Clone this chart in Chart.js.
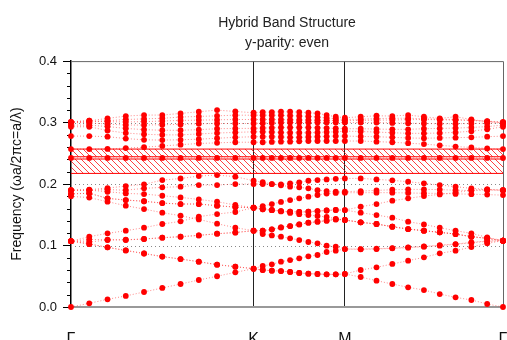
<!DOCTYPE html>
<html>
<head>
<meta charset="utf-8">
<script src="https://cdn.jsdelivr.net/npm/chart.js@4.4.0/dist/chart.umd.min.js"></script>
<style>
html,body{margin:0;padding:0;background:#fff;}
canvas{display:block;}
</style>
</head>
<body>
<canvas id="bands" width="507" height="340"></canvas>
<script>
// k-path: Gamma-K (10 steps), K-M (10 steps), M-Gamma (10 steps), in units of |GK|
var kPos=[0,0.1,0.2,0.3,0.4,0.5,0.6,0.7,0.8,0.9,1.0,
  1.05,1.1,1.15,1.2,1.25,1.3,1.35,1.4,1.45,1.5,
  1.5866,1.6732,1.7598,1.8464,1.933,2.0196,2.1062,2.1928,2.2794,2.366];
var kTicks=[0,1,1.5,2.366];
var kLabels=['Γ','K','M','Γ'];

// bands below the gap
var bandA=[0,.006,.0125,.018,.0244,.031,.0374,.0439,.050,.0564,.0623,
  .0602,.0591,.0585,.0569,.0553,.0542,.0537,.0531,.0531,.0537,
  .0488,.0428,.0374,.032,.0276,.0211,.0157,.0114,.0049,0];
var bandA2=[.107,.1025,.097,.092,.087,.082,.078,.0737,.0688,.0656,.0623,
  .0602,.0591,.0585,.0569,.0553,.0542,.0537,.0531,.0531,.0537,
  .0602,.0645,.07,.0753,.0808,.0873,.0916,.0975,.1035,.1079];
var bandB=[.107,.1025,.097,.092,.087,.082,.078,.0737,.0688,.0656,.0623,
  .0667,.0694,.0737,.0764,.0791,.0824,.0846,.0895,.0916,.0943,
  .0938,.0943,.0954,.0965,.0981,.1008,.1024,.1051,.1075,.1079];
var bandC=[.107,.1057,.109,.109,.1106,.1127,.1144,.1165,.1192,.1209,.1241,
  .1187,.1165,.1144,.1117,.1089,.1057,.1035,.0997,.0981,.0943,
  .0943,.0948,.0959,.097,.0986,.0997,.1019,.1046,.1068,.1079];
var bandD=[.107,.110,.1095,.1095,.1106,.1127,.1144,.1165,.1192,.1215,.1241,
  .1241,.1263,.1295,.1317,.1344,.1371,.1388,.1404,.1425,.1415,
  .1377,.135,.1306,.1268,.1241,.1214,.1187,.1144,.1117,.1079];
var bandE=[.107,.1144,.1198,.1241,.129,.135,.1393,.1469,.1512,.1545,.1615,
  .1604,.158,.1555,.153,.151,.1496,.148,.1465,.1435,.1415,
  .1377,.135,.1306,.1268,.1241,.1214,.1187,.1144,.1117,.1079];
var bandF=[.180,.178,.1713,.1648,.1593,.1534,.1485,.1425,.1355,.129,.1241,
  .1241,.1263,.1295,.1317,.1344,.1371,.1388,.1404,.1425,.1415,
  .1377,.135,.1306,.1268,.1241,.1214,.1187,.1144,.1117,.1079];
var bandG=[.184,.185,.1767,.174,.172,.169,.1675,.1675,.1648,.1625,.1615,
  .159,.1575,.156,.155,.1545,.155,.156,.157,.1578,.1577,
  .1534,.1496,.1453,.1388,.1344,.129,.1241,.1198,.1133,.1079];
var bandG2=[.184,.185,.1767,.174,.172,.169,.1675,.1675,.1648,.1625,.1615,
  .159,.1575,.156,.155,.1545,.155,.156,.157,.1578,.1577,
  .1631,.1675,.1729,.1767,.1805,.1832,.1859,.1902,.1913,.19];
var bandH=[.19,.19,.1875,.1848,.1837,.181,.1783,.175,.1713,.1659,.1615,
  .1642,.1675,.171,.174,.1767,.1795,.1822,.1845,.1855,.1859,
  .1859,.186,.186,.1855,.185,.1848,.184,.1835,.1828,.182];
var bandI=[.19,.19,.191,.19,.193,.1946,.1957,.1984,.1984,.20,.20,
  .20,.20,.1995,.2011,.2027,.2054,.2065,.2076,.2085,.2092,
  .2092,.2076,.206,.2038,.2011,.1984,.1957,.193,.1913,.19];
var bandJ=[.19,.191,.1935,.1967,.1995,.2065,.209,.213,.2146,.212,.2054,
  .203,.20,.198,.1957,.1946,.193,.19,.1886,.1875,.1875,
  .1886,.1897,.1908,.1913,.1913,.191,.19,.1895,.19,.19];

// defect band inside the gap
var bandDefect=[.2425,.2425,.2425,.2425,.2425,.2425,.2425,.2425,.2425,.2425,.2425,
  .2425,.2425,.2425,.2425,.2425,.2425,.2425,.2425,.2425,.2425,
  .2425,.2425,.2425,.2425,.2425,.2425,.2425,.2425,.2425,.2425];

// bands above the gap
var bandU0=[.2569,.2569,.2572,.2585,.260,.262,.264,.266,.267,.268,.268,
  .268,.2685,.269,.269,.2695,.27,.27,.27,.27,.27,
  .27,.269,.268,.2665,.265,.263,.261,.2595,.258,.2569];
var bandU1=[.278,.278,.277,.274,.272,.2715,.272,.273,.2745,.276,.277,
  .277,.277,.2765,.276,.276,.2765,.277,.2775,.278,.278,
  .2775,.277,.276,.275,.2745,.275,.2755,.276,.277,.278];
var bandU2=[.2932,.2932,.287,.283,.281,.28,.28,.2815,.283,.284,.285,
  .285,.2845,.284,.2835,.2835,.2835,.284,.2845,.285,.286,
  .2855,.2845,.2835,.2825,.2825,.283,.284,.286,.289,.2932];
var bandU3=[.2959,.2959,.2935,.2905,.2885,.2875,.2875,.2885,.29,.2905,.2905,
  .291,.2915,.292,.292,.292,.292,.2915,.291,.2905,.29,
  .29,.2895,.289,.289,.29,.2905,.291,.292,.2935,.2959];
var bandU4=[.30,.2995,.2975,.296,.296,.2965,.297,.298,.2985,.2985,.2985,
  .299,.2995,.30,.30,.30,.30,.30,.30,.30,.30,
  .30,.30,.2995,.299,.2985,.298,.298,.2985,.299,.2997];
var bandU5=[.3013,.303,.3014,.301,.3015,.3025,.3035,.304,.3045,.305,.305,
  .305,.305,.3048,.3045,.3042,.304,.3038,.3035,.3032,.303,
  .3035,.304,.3042,.3048,.305,.3045,.304,.3032,.3022,.3013];
var bandU6=[.3013,.303,.3068,.3106,.3122,.3122,.3149,.3176,.3203,.318,.316,
  .317,.317,.3176,.3176,.317,.316,.315,.3122,.3095,.3079,
  .3095,.3111,.3106,.3122,.3095,.3068,.3095,.3051,.3014,.2997];
var bandU7=[.30,.301,.303,.305,.306,.307,.309,.31,.311,.312,.312,
  .312,.312,.3118,.3112,.3108,.31,.309,.3075,.3062,.305,
  .3055,.3065,.307,.307,.3062,.3055,.305,.304,.302,.30];

var allBands=[bandA,bandA2,bandB,bandC,bandD,bandE,bandF,bandG,bandG2,bandH,bandI,bandJ,
  bandDefect,bandU0,bandU1,bandU2,bandU3,bandU4,bandU5,bandU6,bandU7];

// band gaps (hatched)
var gapBottom=[0.2173,0.2444];
var gapTop=[0.2407,0.2569];

var gridVals=[0.1,0.2,0.3];
var minorVals=[0.02,0.04,0.06,0.08,0.12,0.14,0.16,0.18,0.22,0.24,0.26,0.28,0.32,0.34,0.36,0.38];

var canvas=document.getElementById('bands');
var ctx=canvas.getContext('2d');

function makeHatch()
{
    var c=document.createElement('canvas');
    c.width=6;c.height=6;
    var g=c.getContext('2d');
    g.strokeStyle='rgba(255,0,0,0.75)';
    g.lineWidth=1;
    g.beginPath();
    g.moveTo(0,0);g.lineTo(6,6);
    g.moveTo(-1,5);g.lineTo(1,7);
    g.moveTo(5,-1);g.lineTo(7,1);
    g.stroke();
    return ctx.createPattern(c,'repeat');
}
var hatch=makeHatch();
var xMax=kPos[kPos.length-1];

var datasets=allBands.map(function(b){
    return {
        data:kPos.map(function(x,i){return {x:x,y:b[i]};}),
        borderColor:'rgba(255,40,40,0.55)',
        borderWidth:1,
        borderDash:[1,2],
        pointRadius:2.9,
        pointBackgroundColor:'#ff0000',
        pointBorderWidth:0,
        fill:false,
        tension:0,
        clip:false,
        order:1
    };
});
for(var i=0;i<gapTop.length;i++)
{
    datasets.push({
        data:[{x:0,y:gapTop[i]},{x:xMax,y:gapTop[i]}],
        borderColor:'#ff0000',borderWidth:1,pointRadius:0,
        fill:'+1',backgroundColor:hatch,order:10
    });
    datasets.push({
        data:[{x:0,y:gapBottom[i]},{x:xMax,y:gapBottom[i]}],
        borderColor:'#ff0000',borderWidth:1,pointRadius:0,
        fill:false,order:10
    });
}

var framePlugin={
    id:'frame',
    beforeDatasetsDraw:function(chart){
        var a=chart.chartArea,y=chart.scales.y,g=chart.ctx;
        g.save();
        g.lineWidth=1;
        g.strokeStyle='#888';
        g.setLineDash([1,3]);
        gridVals.forEach(function(v){
            var p=Math.round(y.getPixelForValue(v))+0.5;
            g.beginPath();g.moveTo(a.left,p);g.lineTo(a.right,p);g.stroke();
        });
        g.setLineDash([]);
        g.strokeStyle='#666';
        g.beginPath();
        g.moveTo(a.left,a.top+0.5);g.lineTo(a.right+0.5,a.top+0.5);g.lineTo(a.right+0.5,a.bottom);
        g.stroke();
        g.strokeStyle='#000';
        minorVals.forEach(function(v){
            var p=Math.round(y.getPixelForValue(v))+0.5;
            g.beginPath();g.moveTo(a.left-4,p);g.lineTo(a.left,p);g.stroke();
        });
        g.restore();
    }
};

Chart.defaults.font.family="'Liberation Sans', Arial, sans-serif";

new Chart(ctx,{
    type:'line',
    data:{datasets:datasets},
    options:{
        responsive:false,
        animation:false,
        events:[],
        layout:{padding:{left:0,right:3,top:0,bottom:0}},
        plugins:{
            legend:{display:false},
            tooltip:{enabled:false},
            title:{display:true,text:'Hybrid Band Structure',fullSize:false,color:'#222',
                font:{size:14,weight:'normal'},padding:{top:15,bottom:2}},
            subtitle:{display:true,text:'y-parity: even',fullSize:false,color:'#222',
                font:{size:14},padding:{top:1,bottom:9.5}}
        },
        scales:{
            x:{
                type:'linear',min:0,max:xMax,
                afterFit:function(s){s.height=33;s.paddingLeft=0;s.paddingRight=0;},
                afterBuildTicks:function(s){s.ticks=kTicks.map(function(v){return {value:v};});},
                ticks:{autoSkip:false,maxRotation:0,padding:23,color:'#111',font:{size:16},
                    callback:function(v,i){return kLabels[i];}},
                grid:{drawTicks:false,lineWidth:1,
                    color:function(c){return (c.index===1||c.index===2)?'#222':'rgba(0,0,0,0)';}},
                border:{color:'#999',width:2}
            },
            y:{
                min:0,max:0.4,
                afterFit:function(s){s.width=71;},
                ticks:{stepSize:0.1,padding:6,color:'#111',font:{size:13},
                    callback:function(v){return v.toFixed(1);}},
                grid:{drawOnChartArea:false,tickLength:8,tickColor:'#000',tickWidth:1},
                border:{color:'#000',width:1.5},
                title:{display:true,text:'Frequency (ωa/2πc=a/λ)',color:'#111',font:{size:14},
                    padding:{top:9,bottom:0}}
            }
        }
    },
    plugins:[framePlugin]
});
</script>
</body>
</html>
